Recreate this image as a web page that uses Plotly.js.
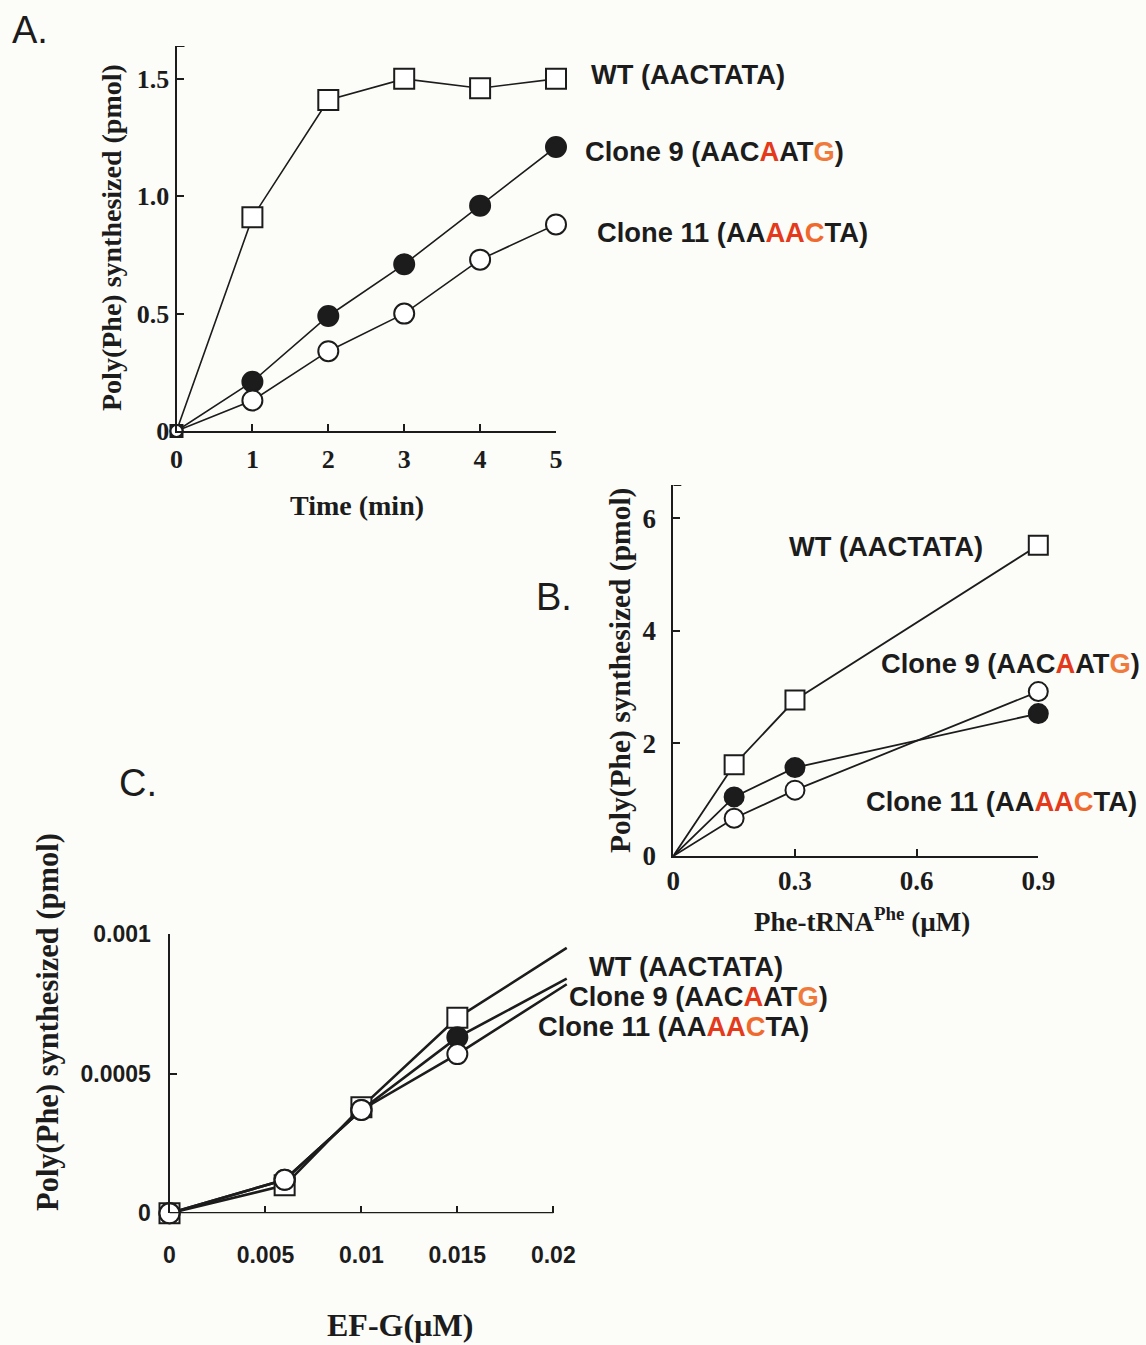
<!DOCTYPE html>
<html>
<head>
<meta charset="utf-8">
<script src="https://cdn.plot.ly/plotly-3.0.1.min.js"></script>
<style>html,body{margin:0;padding:0;background:#fcfcf9;}#chart{width:1146px;height:1345px;}</style>
</head>
<body>
<div id="chart"></div>
<script>
// ---------- Data ----------
const seriesNames = [
  'WT (AACTATA)',
  'Clone 9 (AAC<span style="color:#e4391b">A</span>AT<span style="color:#ef7a3c">G</span>)',
  'Clone 11 (AA<span style="color:#e4391b">AA</span><span style="color:#ef6a2c">C</span>TA)'
];

// Panel A: time course
const timeA = [0, 1, 2, 3, 4, 5];
const wtA   = [0, 0.91, 1.41, 1.50, 1.46, 1.50];
const c9A   = [0, 0.21, 0.49, 0.71, 0.96, 1.21];
const c11A  = [0, 0.13, 0.34, 0.50, 0.73, 0.88];
const ticksA_x = [0, 1, 2, 3, 4, 5];
const ticksA_y = [0, 0.5, 1.0, 1.5];
const ticksA_yText = ['0', '0.5', '1.0', '1.5'];
const topA = 1.64;

// Panel B: Phe-tRNA titration
const pheB = [0, 0.15, 0.3, 0.9];
const wtB  = [0, 1.62, 2.77, 5.52];
const c9B  = [0, 1.05, 1.57, 2.53];
const c11B = [0, 0.67, 1.17, 2.92];
const ticksB_x = [0, 0.3, 0.6, 0.9];
const ticksB_xText = ['0', '0.3', '0.6', '0.9'];
const ticksB_y = [0, 2, 4, 6];
const topB = 6.59;

// Panel C: EF-G titration (last point = end of drawn line, no symbol)
const efgC = [0, 0.006, 0.01, 0.015, 0.0207];
const wtC  = [0, 0.00010, 0.00038, 0.00070, 0.00095];
const c9C  = [0, 0.00012, 0.00037, 0.00063, 0.00084];
const c11C = [0, 0.00012, 0.00037, 0.00057, 0.00082];
const ticksC_x = [0, 0.005, 0.01, 0.015, 0.02];
const ticksC_xText = ['0', '0.005', '0.01', '0.015', '0.02'];
const ticksC_y = [0, 0.0005, 0.001];
const ticksC_yText = ['0', '0.0005', '0.001'];

// ---------- Styles ----------
const INK = '#1c1c1c';
const W = 1146, H = 1345;
const px = v => v / W;
const py = v => 1 - v / H;

function sizes(n, s, first) { const a = new Array(n).fill(s); a[0] = first; return a; }

function trio(xs, ys, xa, ya, lw, ms, firstSize, lastSize) {
  const symbols = ['square', 'circle', 'circle'];
  const fills = ['#ffffff', INK, '#ffffff'];
  return ys.map((y, i) => {
    const s = sizes(xs.length, ms, firstSize);
    if (lastSize !== undefined) s[s.length - 1] = lastSize;
    return {
      x: xs, y: y, xaxis: xa, yaxis: ya, type: 'scatter', mode: 'lines+markers',
      cliponaxis: false, showlegend: false, hoverinfo: 'skip', opacity: 1,
      line: {color: INK, width: lw},
      marker: {symbol: symbols[i], size: s, color: fills[i], opacity: 1, line: {color: INK, width: 2}}
    };
  });
}

const data = [
  ...trio(timeA, [wtA, c9A, c11A], 'x', 'y', 1.6, 20, 12),
  ...trio(pheB, [wtB, c9B, c11B], 'x2', 'y2', 1.8, 19, 0),
  ...trio(efgC, [wtC, c9C, c11C], 'x3', 'y3', 2.6, 20, 20, 0)
];

const serifTick = (size) => ({family: 'Liberation Serif, Times New Roman, serif', size: size, color: INK, weight: 'bold'});
const narrowTick = {family: 'Liberation Sans Narrow, Liberation Sans, Arial, sans-serif', size: 23, color: INK, weight: 'bold'};

const axBase = {
  showgrid: false, zeroline: false, showline: true, linecolor: INK, linewidth: 2,
  ticks: 'inside', ticklen: 7, tickwidth: 2, tickcolor: INK, fixedrange: true
};

function topTick(xa, ya, yv) {
  return {type: 'line', xref: xa, yref: ya, xsizemode: 'pixel', xanchor: 0, x0: 0, x1: 8,
          y0: yv, y1: yv, line: {color: INK, width: 2}};
}

const layout = {
  width: W, height: H,
  margin: {l: 0, r: 0, t: 0, b: 0},
  paper_bgcolor: '#fcfcf9', plot_bgcolor: 'rgba(0,0,0,0)',
  showlegend: false,
  xaxis: Object.assign({}, axBase, {
    domain: [px(176.5), px(556)], range: [0, 5], anchor: 'y',
    tickmode: 'array', tickvals: ticksA_x, tickfont: serifTick(26), ticklabelstandoff: 4
  }),
  yaxis: Object.assign({}, axBase, {
    domain: [py(431), py(46)], range: [0, topA], anchor: 'x',
    tickmode: 'array', tickvals: ticksA_y, ticktext: ticksA_yText,
    tickfont: serifTick(26), ticklabelstandoff: 0
  }),
  xaxis2: Object.assign({}, axBase, {
    domain: [px(673.3), px(1038.3)], range: [0, 0.9], anchor: 'y2',
    tickmode: 'array', tickvals: ticksB_x, ticktext: ticksB_xText,
    tickfont: serifTick(27), ticklabelstandoff: 0
  }),
  yaxis2: Object.assign({}, axBase, {
    domain: [py(856), py(485)], range: [0, topB], anchor: 'x2',
    tickmode: 'array', tickvals: ticksB_y,
    tickfont: serifTick(27), ticklabelstandoff: 10
  }),
  xaxis3: Object.assign({}, axBase, {
    domain: [px(169.5), px(169.5 + 0.021 * 19190)], range: [0, 0.021], anchor: 'y3',
    showline: false,
    tickmode: 'array', tickvals: ticksC_x, ticktext: ticksC_xText,
    tickfont: narrowTick, ticklabelstandoff: 26
  }),
  yaxis3: Object.assign({}, axBase, {
    domain: [py(1213.3), py(934)], range: [0, ticksC_y[ticksC_y.length - 1]], anchor: 'x3',
    tickmode: 'array', tickvals: ticksC_y, ticktext: ticksC_yText,
    tickfont: narrowTick, ticklabelstandoff: 12
  }),
  shapes: [
    {type: 'line', xref: 'x3', yref: 'y3', x0: ticksC_x[0], x1: ticksC_x[ticksC_x.length - 1], y0: 0, y1: 0,
     line: {color: INK, width: 2.5}},
    topTick('x', 'y', topA),
    topTick('x2', 'y2', topB)
  ],
  annotations: []
};

const titleFont = (s) => ({family: 'Liberation Serif, Times New Roman, serif', size: s, color: INK, weight: 'bold'});
const labelFont = {family: 'Liberation Sans, Arial, sans-serif', size: 27.3, color: INK, weight: 'bold'};
const letterFont = {family: 'Liberation Sans, Arial, sans-serif', size: 38, color: INK};

function ann(text, x, y, font, opts) {
  layout.annotations.push(Object.assign({
    text: text, x: px(x), y: py(y), xref: 'paper', yref: 'paper',
    showarrow: false, font: font, xanchor: 'center', yanchor: 'middle'
  }, opts || {}));
}

// Axis titles
const yTitle = 'Poly(Phe) synthesized (pmol)';
ann(yTitle, 112, 238, titleFont(28), {textangle: -90});
ann('Time (min)', 357, 505, titleFont(28));
ann(yTitle, 620, 671, titleFont(29.5), {textangle: -90});
ann('Phe-tRNA<sup>Phe</sup> (µM)', 862, 920, titleFont(27));
ann(yTitle, 48, 1022, titleFont(30.5), {textangle: -90});
ann('EF-G(µM)', 400, 1325, titleFont(32));

// Series labels
const labA = [[589, 75], [583, 152], [595, 233]];
const labB = [[787, 546], [879, 663], [864, 801]];
const labC = [[587, 966], [567, 996], [536, 1026]];
[labA, labB, labC].forEach(set => set.forEach((p, i) => ann(seriesNames[i], p[0], p[1], labelFont, {xanchor: 'left'})));

// Panel letters
ann('A.', 10, 30, letterFont, {xanchor: 'left'});
ann('B.', 534, 597, letterFont, {xanchor: 'left'});
ann('C.', 117, 783, letterFont, {xanchor: 'left'});

Plotly.newPlot('chart', data, layout, {staticPlot: true, displayModeBar: false});
</script>
</body>
</html>
